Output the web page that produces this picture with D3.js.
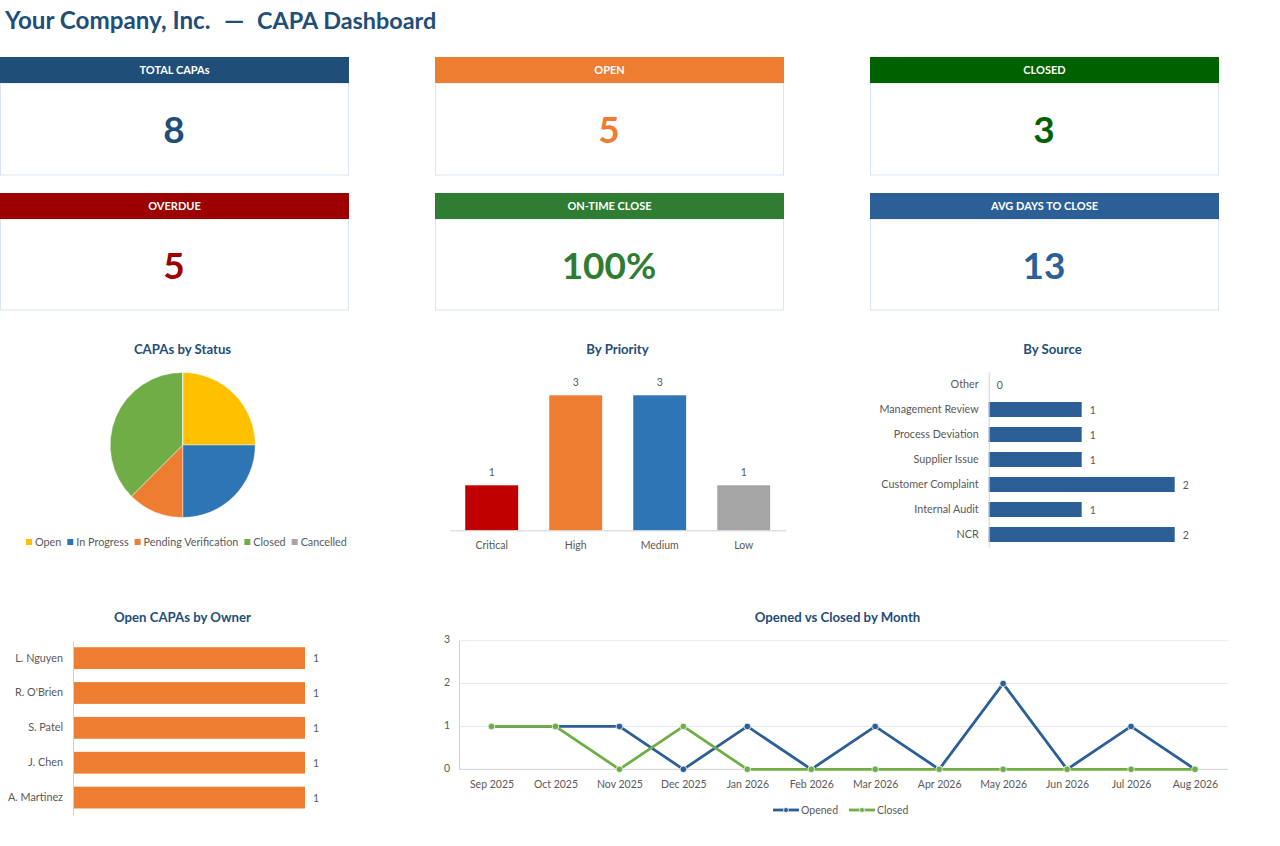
<!DOCTYPE html>
<html lang="en">
<head>
  <meta charset="utf-8">
  <title>CAPA Dashboard</title>
  <script src="https://d3js.org/d3.v7.min.js"></script>
  <style>
    html, body { margin: 0; padding: 0; background: #fff; }
    svg { display: block; }
    text { font-family: Lato, "Open Sans", sans-serif; }
    .chart-title { font-size: 13.2px; font-weight: 700; fill: #1f4e79; text-anchor: middle; }
    .lbl { font-size: 10.5px; fill: #595959; }
    .lbl.status { font-size: 10.8px; }
    .axis path, .axis line { fill: none; }
    .axis text { font-family: Lato, "Open Sans", sans-serif; font-size: 10.5px; fill: #595959; }
    .axis.wide text { font-size: 10.8px; }
  </style>
</head>
<body>
  <script type="text/javascript">
  var w = 1280;
  var h = 846;

  // data
  var kpi_labels = ["TOTAL CAPAs", "OPEN", "CLOSED", "OVERDUE", "ON-TIME CLOSE", "AVG DAYS TO CLOSE"];
  var kpi_values = ["8", "5", "3", "5", "100%", "13"];
  var kpi_colors = ["#1f4e79", "#ed7d31", "#006100", "#9c0000", "#2e7d32", "#2c5f96"];

  var status_names = ["Open", "In Progress", "Pending Verification", "Closed", "Cancelled"];
  var status_values = [2, 2, 1, 3, 0];
  var status_colors = ["#ffc000", "#2e75b6", "#ed7d31", "#70ad47", "#a5a5a5"];

  var priority_names = ["Critical", "High", "Medium", "Low"];
  var priority_values = [1, 3, 3, 1];
  var priority_colors = ["#c00000", "#ed7d31", "#2e75b6", "#a5a5a5"];

  var source_names = ["Other", "Management Review", "Process Deviation", "Supplier Issue", "Customer Complaint", "Internal Audit", "NCR"];
  var source_values = [0, 1, 1, 1, 2, 1, 2];

  var owner_names = ["L. Nguyen", "R. O'Brien", "S. Patel", "J. Chen", "A. Martinez"];
  var owner_values = [1, 1, 1, 1, 1];

  var months = ["Sep 2025", "Oct 2025", "Nov 2025", "Dec 2025", "Jan 2026", "Feb 2026", "Mar 2026", "Apr 2026", "May 2026", "Jun 2026", "Jul 2026", "Aug 2026"];
  // not "closed": that name is taken by window.closed
  var opened_counts = [1, 1, 1, 0, 1, 0, 1, 0, 2, 0, 1, 0];
  var closed_counts = [1, 1, 0, 1, 0, 0, 0, 0, 0, 0, 0, 0];
  var y_ticks = [0, 1, 2, 3];

  var blue = "#2c5f96";
  var orange = "#ed7d31";
  var green = "#70ad47";
  var axis_grey = "#d0d0d0";

  var svg = d3.select("body")
    .append("svg")
    .attr("width", w)
    .attr("height", h);

  function heading(text, x, size) {
    svg.append("text")
      .text(text)
      .attr("x", x)
      .attr("y", 29)
      .attr("font-size", size)
      .attr("font-weight", 700)
      .attr("fill", "#1f4e79");
  }
  heading("Your Company, Inc.", 5, "24.2px");
  heading("\u2014", 224, "25.5px");
  heading("CAPA Dashboard", 257, "23.4px");

  // KPI cards
  kpi_labels.forEach(function(label, i) {
    var x = (i % 3) * 435;
    var y = i < 3 ? 57 : 193;
    var body_h = i < 3 ? 92 : 91;
    svg.append("rect")
      .attr("x", x + 0.5).attr("y", y + 26)
      .attr("width", 348).attr("height", body_h)
      .attr("fill", "#fff").attr("stroke", "#d9e4f0");
    svg.append("rect")
      .attr("x", x).attr("y", y)
      .attr("width", 349).attr("height", 26)
      .attr("fill", kpi_colors[i]);
    svg.append("text")
      .text(label)
      .attr("x", x + 174.5).attr("y", y + 17.2)
      .attr("text-anchor", "middle")
      .attr("font-size", "11px").attr("font-weight", 700)
      .attr("fill", "#fff");
    svg.append("text")
      .text(kpi_values[i])
      .attr("x", x + 174).attr("y", y + 85.5)
      .attr("text-anchor", "middle")
      .attr("font-size", "37px").attr("font-weight", 700)
      .attr("fill", kpi_colors[i]);
  });

  function chartTitle(text, x, y) {
    svg.append("text").attr("class", "chart-title").text(text).attr("x", x).attr("y", y);
  }

  // pie
  chartTitle("CAPAs by Status", 182.5, 353.5);
  var pie = d3.pie().sort(null).value(function(d) { return d; });
  var arc = d3.arc().innerRadius(0).outerRadius(72.5);
  svg.append("g")
    .attr("transform", "translate(182.7,445)")
    .selectAll("path")
    .data(pie(status_values))
    .enter()
    .append("path")
    .attr("d", arc)
    .attr("fill", function(d, i) { return status_colors[i]; })
    .attr("stroke", "#fff")
    .attr("stroke-width", 0.4);

  var legend_x = 26;
  status_names.forEach(function(name, i) {
    svg.append("rect")
      .attr("x", legend_x).attr("y", 539)
      .attr("width", 6).attr("height", 6)
      .attr("fill", status_colors[i]);
    var t = svg.append("text")
      .attr("class", "lbl status")
      .text(name)
      .attr("x", legend_x + 9).attr("y", 546);
    legend_x += 9 + t.node().getComputedTextLength() + 6;
  });

  // by priority
  chartTitle("By Priority", 617.5, 353.5);
  var px = d3.scaleBand().domain(priority_names).range([449.7, 785.7]).paddingInner(0.37).paddingOuter(0.185);
  var py = d3.scaleLinear().domain([0, 3]).range([530.3, 395.3]);
  svg.selectAll(".pbar")
    .data(priority_values)
    .enter()
    .append("rect")
    .attr("class", "pbar")
    .attr("x", function(d, i) { return px(priority_names[i]); })
    .attr("y", function(d) { return py(d); })
    .attr("width", px.bandwidth())
    .attr("height", function(d) { return py(0) - py(d); })
    .attr("fill", function(d, i) { return priority_colors[i]; });
  svg.selectAll(".plabel")
    .data(priority_values)
    .enter()
    .append("text")
    .attr("class", "lbl plabel")
    .text(function(d) { return d; })
    .attr("x", function(d, i) { return px(priority_names[i]) + px.bandwidth() / 2; })
    .attr("y", function(d) { return py(d) - 9; })
    .attr("text-anchor", "middle");
  var p_axis = svg.append("g")
    .attr("class", "axis")
    .attr("transform", "translate(0,530.3)")
    .call(d3.axisBottom(px).tickSize(0).tickPadding(11));
  p_axis.select("path").attr("stroke", axis_grey);

  // horizontal bars, used for source and owner
  function hbars(names, values, opt) {
    var y = d3.scaleBand().domain(names).range(opt.yRange).paddingInner(opt.pad).paddingOuter(opt.pad / 2);
    var x = d3.scaleLinear().domain([0, opt.max]).range([opt.x0, opt.x1]);
    svg.append("g")
      .selectAll("rect")
      .data(values)
      .enter()
      .append("rect")
      .attr("x", x(0))
      .attr("y", function(d, i) { return y(names[i]); })
      .attr("width", function(d) { return x(d) - x(0); })
      .attr("height", y.bandwidth())
      .attr("fill", opt.color);
    svg.append("g")
      .selectAll("text")
      .data(values)
      .enter()
      .append("text")
      .attr("class", "lbl")
      .text(function(d) { return d; })
      .attr("x", function(d) { return x(d) + 8; })
      .attr("y", function(d, i) { return y(names[i]) + y.bandwidth() / 2 + 4; });
    var a = svg.append("g")
      .attr("class", "axis wide")
      .attr("transform", "translate(" + x(0) + ",0)")
      .call(d3.axisLeft(y).tickSize(0).tickPadding(10));
    a.select("path").attr("stroke", axis_grey);
  }

  chartTitle("By Source", 1052.5, 353.5);
  hbars(source_names, source_values, { yRange: [372, 547], pad: 0.4, max: 2, x0: 988.7, x1: 1174.7, color: blue });

  chartTitle("Open CAPAs by Owner", 182.5, 621.5);
  hbars(owner_names, owner_values, { yRange: [640.7, 815], pad: 0.375, max: 1, x0: 73, x1: 305, color: orange });

  // opened vs closed
  chartTitle("Opened vs Closed by Month", 837.5, 621.5);
  var lx = d3.scalePoint().domain(months).range([491.5, 1195]);
  var ly = d3.scaleLinear().domain([0, 3]).range([769.3, 640.7]);
  svg.append("g")
    .selectAll("line")
    .data(y_ticks.slice(1))
    .enter()
    .append("line")
    .attr("x1", 459).attr("x2", 1228)
    .attr("y1", function(d) { return ly(d); })
    .attr("y2", function(d) { return ly(d); })
    .attr("stroke", "#e4eaf2");
  var lx_axis = svg.append("g")
    .attr("class", "axis")
    .attr("transform", "translate(0,769.3)")
    .call(d3.axisBottom(lx).tickSize(0).tickPadding(11));
  lx_axis.select("path").attr("d", "M459,0H1228").attr("stroke", axis_grey);
  var ly_axis = svg.append("g")
    .attr("class", "axis")
    .attr("transform", "translate(459,0)")
    .call(d3.axisLeft(ly).tickValues(y_ticks).tickFormat(d3.format("d")).tickSize(0).tickPadding(9));
  ly_axis.select("path").attr("stroke", axis_grey);
  ly_axis.selectAll("text").attr("dy", "0.2em");

  var line = d3.line()
    .x(function(d, i) { return lx(months[i]); })
    .y(function(d) { return ly(d); });

  function series(values, color) {
    svg.append("path")
      .datum(values)
      .attr("d", line)
      .attr("fill", "none")
      .attr("stroke", color)
      .attr("stroke-width", 2.8);
    svg.append("g")
      .selectAll("circle")
      .data(values)
      .enter()
      .append("circle")
      .attr("cx", function(d, i) { return lx(months[i]); })
      .attr("cy", function(d) { return ly(d); })
      .attr("r", 3.3)
      .attr("fill", color)
      .attr("stroke", "#fff")
      .attr("stroke-width", 0.75);
  }
  series(opened_counts, blue);
  series(closed_counts, green);

  function lineLegend(name, x, color) {
    svg.append("line")
      .attr("x1", x).attr("x2", x + 26)
      .attr("y1", 810).attr("y2", 810)
      .attr("stroke", color).attr("stroke-width", 2.8);
    svg.append("circle")
      .attr("cx", x + 13).attr("cy", 810).attr("r", 2.5)
      .attr("fill", color).attr("stroke", "#fff").attr("stroke-width", 0.75);
    svg.append("text")
      .attr("class", "lbl")
      .text(name)
      .attr("x", x + 28).attr("y", 814);
  }
  lineLegend("Opened", 773, blue);
  lineLegend("Closed", 849, green);
  </script>
</body>
</html>
